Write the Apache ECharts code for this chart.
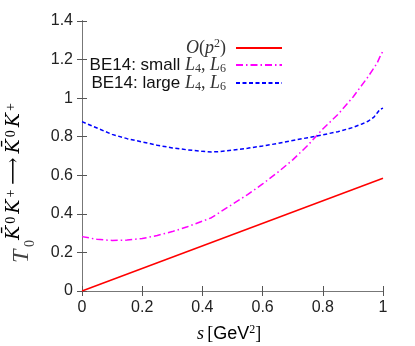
<!DOCTYPE html>
<html><head><meta charset="utf-8">
<script src="https://cdn.jsdelivr.net/npm/echarts@6/dist/echarts.min.js"></script>
<style>html,body{margin:0;padding:0;background:#fff}#c{width:415px;height:346px}</style>
</head><body><div id="c"></div>
<script>
const xTicks = [0, 0.2, 0.4, 0.6, 0.8, 1];
const yTicks = [0, 0.2, 0.4, 0.6, 0.8, 1, 1.2, 1.4];
const sRed = [0, 1];
const vRed = [0, 0.585];
const sSmall = [0, 0.05, 0.1, 0.15, 0.2, 0.25, 0.3, 0.35, 0.4, 0.43, 0.45, 0.5, 0.55, 0.6, 0.65, 0.7, 0.75, 0.8, 0.85, 0.9, 0.95, 0.98, 0.99, 1.0];
const vSmall = [0.282, 0.268, 0.262, 0.264, 0.272, 0.288, 0.308, 0.333, 0.362, 0.38, 0.40, 0.45, 0.50, 0.555, 0.615, 0.68, 0.755, 0.84, 0.915, 1.005, 1.11, 1.18, 1.215, 1.245];
const sLarge = [0, 0.05, 0.1, 0.15, 0.2, 0.25, 0.3, 0.35, 0.4, 0.43, 0.45, 0.5, 0.55, 0.6, 0.65, 0.7, 0.75, 0.8, 0.85, 0.9, 0.93, 0.95, 0.97, 0.98, 0.99, 1.0];
const vLarge = [0.878, 0.845, 0.812, 0.79, 0.773, 0.756, 0.742, 0.732, 0.724, 0.721, 0.722, 0.73, 0.74, 0.752, 0.765, 0.78, 0.795, 0.81, 0.826, 0.848, 0.866, 0.88, 0.902, 0.922, 0.942, 0.948];
const names = ['O(p2)', 'BE14: small L4, L6', 'BE14: large L4, L6'];
const labelsRich = [
  '{it|O}{r|(}{it|p}{sup|2}{r|)}',
  '{sans|BE14: small }{it|L}{sub|4}{r|, }{it|L}{sub|6}',
  '{sans|BE14: large }{it|L}{sub|4}{r|, }{it|L}{sub|6}'
];
const colors = ['#ff0000', '#ff00ff', '#0000ff'];
const dashes = ['solid', [7, 3, 1.5, 3], [4, 2.5]];

const zip = (a, b) => a.map((v, i) => [v, b[i]]);
const rich = {
  it: {fontFamily: 'Liberation Serif', fontStyle: 'italic', fontSize: 18, color: '#333', lineHeight: 20},
  r: {fontFamily: 'Liberation Serif', fontSize: 18, color: '#333', lineHeight: 20},
  sans: {fontFamily: 'Liberation Sans', fontSize: 17, color: '#111', lineHeight: 20},
  sup: {fontFamily: 'Liberation Serif', fontSize: 12, color: '#333', verticalAlign: 'top', lineHeight: 20, padding: [0,0,8,0]},
  sub: {fontFamily: 'Liberation Serif', fontSize: 12, color: '#333', verticalAlign: 'bottom', lineHeight: 20, padding: [7,0,0,0]}
};
const legendTops = [38, 56, 74];
const legends = names.map((n, i) => ({
  data: [n], orient: 'vertical', right: 132, top: legendTops[i], align: 'right', padding: 0,
  itemWidth: 46, itemHeight: 20, itemGap: 0, selectedMode: false,
  itemStyle: {opacity: 0},
  formatter: () => labelsRich[i],
  textStyle: {rich: rich, padding: [0, 5, 0, 0]}
}));

const axisCommon = {
  type: 'value', splitLine: {show: false},
  axisTick: {inside: true, length: 5, lineStyle: {color: '#555'}},
};
const chart = echarts.init(document.getElementById('c'));
chart.setOption({
  animation: false,
  grid: {left: 82, right: 32, top: 21, bottom: 55},
  legend: legends,
  xAxis: [
    Object.assign({}, axisCommon, {min: xTicks[0], max: xTicks[xTicks.length-1], interval: 0.2,
      axisLine: {lineStyle: {color: '#000', width: 1}},
      axisLabel: {fontFamily: 'Liberation Sans', fontSize: 16, color: '#222', margin: 9}}),
    Object.assign({}, axisCommon, {min: 0, max: 1, interval: 0.2, position: 'top',
      axisLine: {lineStyle: {color: '#777', width: 1}}, axisLabel: {show: false}})
  ],
  yAxis: [
    Object.assign({}, axisCommon, {min: yTicks[0], max: yTicks[yTicks.length-1], interval: 0.2,
      axisLine: {lineStyle: {color: '#000', width: 1}},
      axisLabel: {fontFamily: 'Liberation Sans', fontSize: 16, color: '#222', margin: 9}}),
    Object.assign({}, axisCommon, {min: 0, max: 1.4, interval: 0.2, position: 'right',
      axisLine: {lineStyle: {color: '#777', width: 1}}, axisLabel: {show: false}})
  ],
  series: [
    {name: names[0], type: 'line', showSymbol: false, symbol: 'none', data: zip(sRed, vRed),
     lineStyle: {color: colors[0], width: 1.5, type: dashes[0]}, itemStyle: {color: colors[0]}},
    {name: names[1], type: 'line', showSymbol: false, symbol: 'none', data: zip(sSmall, vSmall),
     lineStyle: {color: colors[1], width: 1.5, type: dashes[1]}, itemStyle: {color: colors[1]}},
    {name: names[2], type: 'line', showSymbol: false, symbol: 'none', data: zip(sLarge, vLarge),
     lineStyle: {color: colors[2], width: 1.5, type: dashes[2]}, itemStyle: {color: colors[2]}}
  ],
  graphic: [
    {type: 'text', x: 197, y: 324, style: {
      text: '{it|s} {r|[}{sans2|GeV}{sup|2}{r|]}',
      rich: Object.assign({}, rich, {sans2: {fontFamily: 'Liberation Sans', fontSize: 18, color: '#111', lineHeight: 20}})}},
    {type: 'group', x: 0, y: 263, rotation: Math.PI / 2, children: [
      {type: 'text', x: 0, y: 22, style: {text: 'T', font: 'italic 24px "Liberation Serif"', fill: '#444', verticalAlign: 'middle'}},
      {type: 'text', x: 16, y: 30, style: {text: '0', font: '14px "Liberation Serif"', fill: '#444', verticalAlign: 'middle'}},
      {type: 'text', x: 22, y: 14, style: {
        text: '{k|K̄}{s|0}{k|K}{s|+}{a|⟶}{k|K̄}{s|0}{k|K}{s|+}',
        verticalAlign: 'middle',
        rich: {
          k: {fontFamily: 'DejaVu Serif', fontStyle: 'italic', fontSize: 19, color: '#444', lineHeight: 20, padding: [0, 1, 0, 1]},
          a: {fontFamily: 'DejaVu Serif', fontSize: 19, color: '#444', lineHeight: 20, padding: [0, 3, 0, 3]},
          s: {fontFamily: 'Liberation Serif', fontSize: 14, color: '#444', verticalAlign: 'top', lineHeight: 20, padding: [0, 2, 6, 1]}
        }}}
    ]}
  ]
});
</script></body></html>
